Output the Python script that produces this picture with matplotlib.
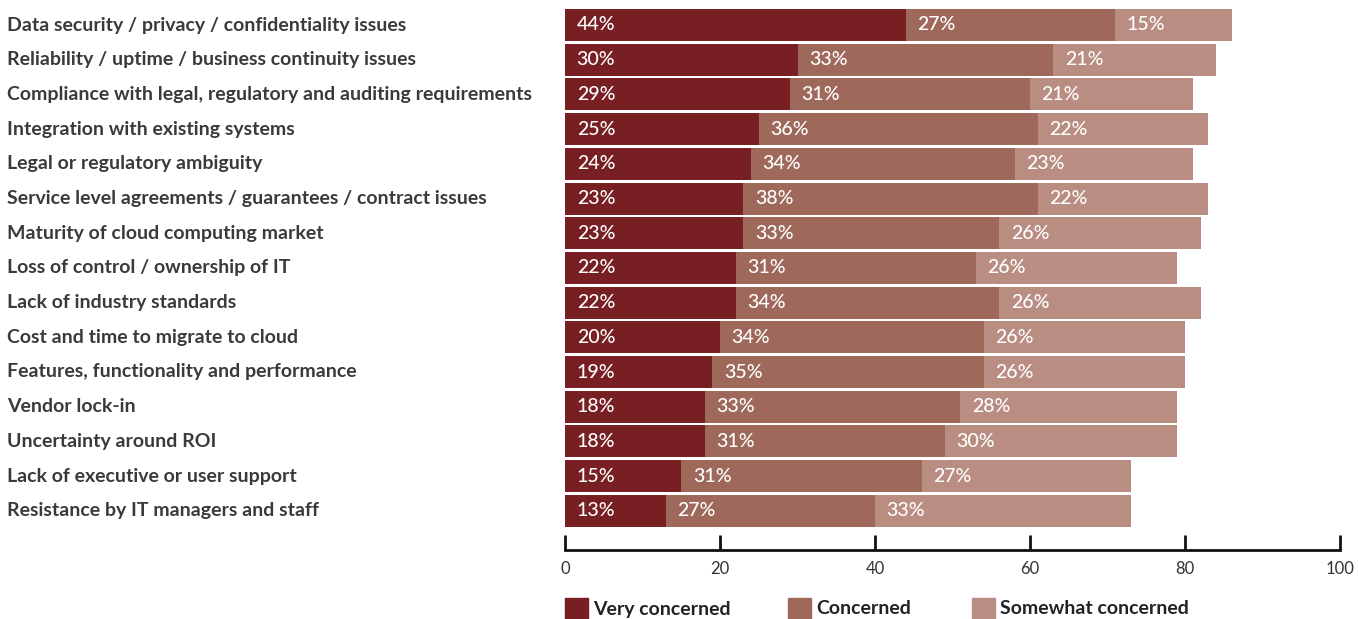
import matplotlib
matplotlib.use("Agg")
import matplotlib.pyplot as plt
from matplotlib.patches import Rectangle
from matplotlib import font_manager

categories = [
    "Data security / privacy / confidentiality issues",
    "Reliability / uptime / business continuity issues",
    "Compliance with legal, regulatory and auditing requirements",
    "Integration with existing systems",
    "Legal or regulatory ambiguity",
    "Service level agreements / guarantees / contract issues",
    "Maturity of cloud computing market",
    "Loss of control / ownership of IT",
    "Lack of industry standards",
    "Cost and time to migrate to cloud",
    "Features, functionality and performance",
    "Vendor lock-in",
    "Uncertainty around ROI",
    "Lack of executive or user support",
    "Resistance by IT managers and staff",
]
very_concerned = [44, 30, 29, 25, 24, 23, 23, 22, 22, 20, 19, 18, 18, 15, 13]
concerned = [27, 33, 31, 36, 34, 38, 33, 31, 34, 34, 35, 33, 31, 31, 27]
somewhat_concerned = [15, 21, 21, 22, 23, 22, 26, 26, 26, 26, 26, 28, 30, 27, 33]
series_names = ["Very concerned", "Concerned", "Somewhat concerned"]
colors = ["#771F22", "#9E695A", "#BA8D82"]
x_ticks = [0, 20, 40, 60, 80, 100]

available = {f.name for f in font_manager.fontManager.ttflist}
label_font = "Lato" if "Lato" in available else "DejaVu Sans"

W, H = 1358, 619
fig = plt.figure(figsize=(W / 100, H / 100), dpi=100)

ax_left, ax_right = 565, 1340
ax_top, ax_bottom = 8, 550
ax = fig.add_axes([ax_left / W, 1 - ax_bottom / H,
                   (ax_right - ax_left) / W, (ax_bottom - ax_top) / H])

row_pitch = 34.7
first_center = 25
y = list(range(len(categories)))
ax.set_ylim((ax_bottom - first_center) / row_pitch, (ax_top - first_center) / row_pitch)
ax.set_xlim(0, 100)

bar_h = 32 / row_pitch
left = [0] * len(categories)
for vals, col in zip([very_concerned, concerned, somewhat_concerned], colors):
    ax.barh(y, vals, left=left, height=bar_h, color=col, edgecolor="none")
    for yi, (l, v) in enumerate(zip(left, vals)):
        ax.text(l + 1.5, yi, f"{v}%", color="white", fontsize=14,
                family=label_font, fontweight="medium", va="center", ha="left")
    left = [a + b for a, b in zip(left, vals)]

for s in ["top", "right", "left"]:
    ax.spines[s].set_visible(False)
ax.spines["bottom"].set_linewidth(2)
ax.spines["bottom"].set_color("#111111")
ax.set_yticks([])
ax.set_xticks(x_ticks)
ax.tick_params(axis="x", direction="in", length=11, width=2, color="#111111",
               pad=8, labelsize=12, labelcolor="#333333")
for t in ax.get_xticklabels():
    t.set_family(label_font)

# category labels on the left
for yi, cat in enumerate(categories):
    fy = 1 - (first_center + yi * row_pitch) / H
    fig.text(7 / W, fy, cat, fontsize=14, family=label_font, fontweight="bold",
             color="#3a3a3a", va="center", ha="left")

# legend
legend_x = [565, 788, 972]
for lx, name, col in zip(legend_x, series_names, colors):
    fig.patches.append(Rectangle((lx / W, 1 - 619 / H), 23 / W, 21 / H,
                                 transform=fig.transFigure, color=col))
    fig.text((lx + 28) / W, 1 - 609 / H, name, fontsize=14, family=label_font,
             color="#222222", va="center", ha="left", fontweight="bold")

fig.savefig("out.png", dpi=100)
